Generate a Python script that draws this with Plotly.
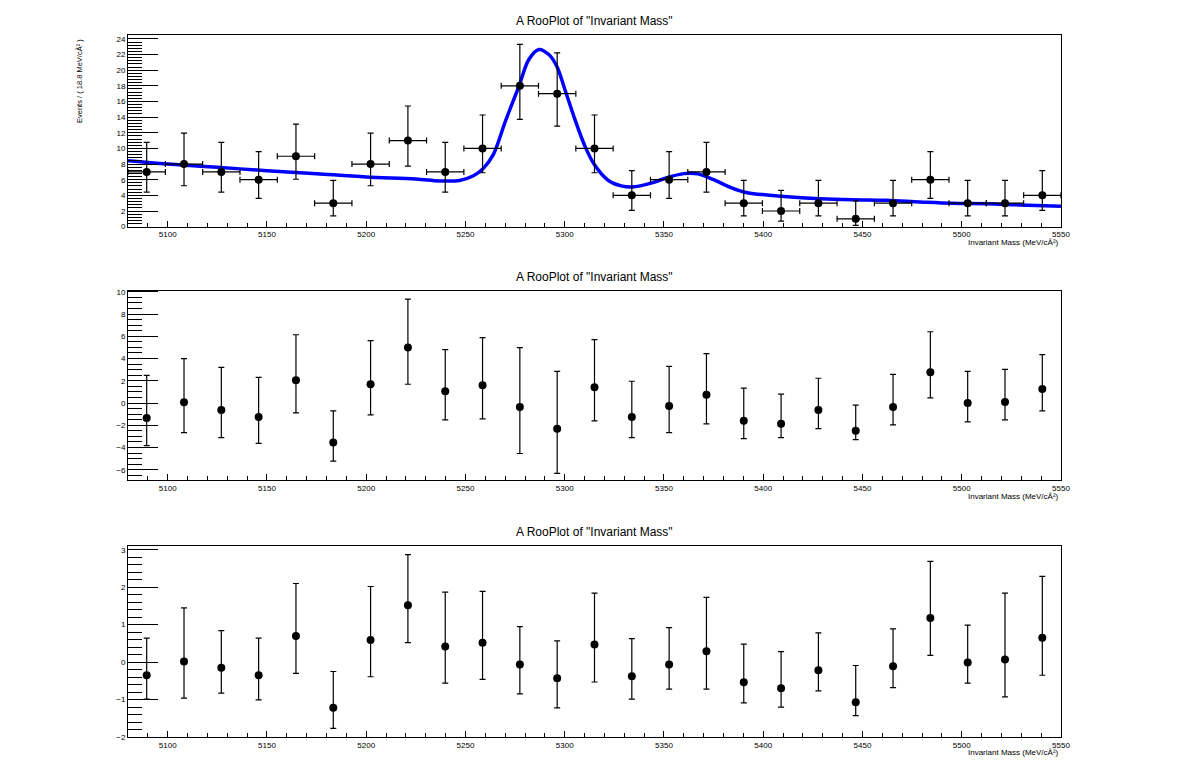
import plotly.graph_objects as go
from plotly.subplots import make_subplots

# binning: 25 bins of 18.8 MeV between 5080 and 5550
bin_width = 18.8
mass = [5089.4, 5108.2, 5127.0, 5145.8, 5164.6, 5183.4, 5202.2, 5221.0, 5239.8,
        5258.6, 5277.4, 5296.2, 5315.0, 5333.8, 5352.6, 5371.4, 5390.2, 5409.0,
        5427.8, 5446.6, 5465.4, 5484.2, 5503.0, 5521.8, 5540.6]

# events per bin with asymmetric (poisson) errors
events = [7, 8, 7, 6, 9, 3, 8, 11, 7, 10, 18, 17, 10, 4, 6, 7, 3, 2, 3, 1, 3, 6, 3, 3, 4]
events_hi = [3.77, 3.95, 3.77, 3.58, 4.11, 2.92, 3.95, 4.42, 3.77, 4.27, 5.3, 5.2,
             4.27, 3.16, 3.58, 3.77, 2.92, 2.64, 2.92, 2.30, 2.92, 3.58, 2.92, 2.92, 3.16]
events_lo = [2.58, 2.77, 2.58, 2.38, 2.94, 1.63, 2.77, 3.27, 2.58, 3.11, 4.3, 4.15,
             3.11, 1.91, 2.38, 2.58, 1.63, 1.29, 1.63, 0.83, 1.63, 2.38, 1.63, 1.63, 1.91]

# fitted model curve
curve_x = [5080, 5100, 5125, 5150, 5175, 5200, 5225, 5237, 5247, 5254, 5259, 5264,
           5270, 5277, 5282, 5287, 5292, 5296, 5300, 5305, 5310, 5315, 5322, 5329,
           5335, 5344, 5352, 5360, 5367, 5375, 5384, 5392, 5402, 5414, 5429, 5445,
           5462, 5479, 5495, 5512, 5529, 5550]
curve_y = [8.42, 8.0, 7.58, 7.16, 6.76, 6.36, 6.1, 5.85, 5.9, 6.5, 7.45, 9.2,
           13.4, 18.0, 21.4, 22.65, 22.0, 20.5, 17.6, 13.8, 10.4, 7.9, 5.9, 5.18,
           5.1, 5.6, 6.3, 6.78, 6.75, 6.0, 4.97, 4.34, 4.04, 3.79, 3.58, 3.45,
           3.37, 3.16, 2.99, 2.94, 2.78, 2.61]

# residuals (data - model)
resid = [-1.34, 0.06, -0.62, -1.25, 2.05, -3.56, 1.69, 4.99, 1.07, 1.60, -0.36, -2.31,
         1.42, -1.25, -0.27, 0.74, -1.60, -1.87, -0.62, -2.49, -0.36, 2.76, 0.0, 0.09, 1.25]
resid_hi = [3.83, 3.94, 3.82, 3.56, 4.09, 2.85, 3.92, 4.36, 3.74, 4.28, 5.35, 5.16,
            4.28, 3.21, 3.56, 3.71, 2.94, 2.67, 2.85, 2.31, 2.94, 3.65, 2.85, 2.94, 3.11]
resid_lo = [2.49, 2.73, 2.50, 2.37, 2.94, 1.66, 2.76, 3.30, 2.58, 3.02, 4.18, 4.01,
            3.02, 1.87, 2.40, 2.61, 1.60, 1.25, 1.69, 0.80, 1.60, 2.29, 1.69, 1.60, 1.96]

# pulls
pull = [-0.35, 0.02, -0.15, -0.35, 0.70, -1.22, 0.59, 1.52, 0.42, 0.52, -0.06, -0.43,
        0.47, -0.38, -0.06, 0.29, -0.54, -0.70, -0.22, -1.07, -0.11, 1.18, -0.01, 0.07, 0.65]
pull_hi = [0.99, 1.43, 0.99, 0.99, 1.40, 0.97, 1.43, 1.35, 1.45, 1.37, 1.01, 1.00,
           1.37, 1.01, 0.98, 1.44, 1.02, 0.98, 1.00, 0.98, 1.00, 1.51, 1.00, 1.77, 1.64]
pull_lo = [0.64, 0.98, 0.68, 0.66, 1.00, 0.55, 0.98, 1.00, 0.98, 0.98, 0.79, 0.79,
           1.00, 0.61, 0.66, 1.01, 0.55, 0.50, 0.55, 0.36, 0.57, 1.00, 0.55, 1.00, 1.00]

title = 'A RooPlot of "Invariant Mass"'
xtitle = "Invariant Mass (MeV/cÂ²)"
ytitle = "Events / ( 18.8 MeV/cÂ² )"
font = "Liberation Sans, Arial, sans-serif"

fig = make_subplots(rows=3, cols=1)

err_style = dict(color="black", thickness=1.2, width=3)
marker = dict(color="black", size=8)

fig.add_trace(go.Scatter(x=curve_x, y=curve_y, mode="lines", line_shape="spline",
                         line=dict(color="#0000ff", width=3.5)), row=1, col=1)
fig.add_trace(go.Scatter(x=mass, y=events, mode="markers", marker=marker,
                         error_y=dict(type="data", symmetric=False, array=events_hi,
                                      arrayminus=events_lo, **err_style),
                         error_x=dict(type="constant", value=bin_width / 2, **err_style)),
              row=1, col=1)
fig.add_trace(go.Scatter(x=mass, y=resid, mode="markers", marker=marker,
                         error_y=dict(type="data", symmetric=False, array=resid_hi,
                                      arrayminus=resid_lo, **err_style)),
              row=2, col=1)
fig.add_trace(go.Scatter(x=mass, y=pull, mode="markers", marker=marker,
                         error_y=dict(type="data", symmetric=False, array=pull_hi,
                                      arrayminus=pull_lo, **err_style)),
              row=3, col=1)

# pixel layout of the 1198x774 canvas, turned into paper fractions
W, H = 1198, 774
x_dom = [129 / W, 1069 / W]
frames = [(32.3, 226), (290.7, 482.3), (548.7, 741.7)]
yranges = [[0, 24.5], [-6.95, 10.1], [-2.0, 3.1]]
ydticks = [2, 2, 1]
yminor = [0.4, 0.5, 0.2]

for i in range(3):
    top, bot = frames[i]
    fig.update_xaxes(row=i + 1, col=1, domain=x_dom, range=[5080, 5550],
                     showgrid=False, zeroline=False, showline=True, mirror=True,
                     linecolor="black", linewidth=1, ticks="inside", ticklen=6,
                     tickcolor="black", dtick=50, tick0=5100,
                     minor=dict(ticks="inside", ticklen=4, dtick=10, tickcolor="black",
                                showgrid=False),
                     tickfont=dict(size=8, color="black", family=font))
    fig.update_yaxes(row=i + 1, col=1, domain=[(H - bot) / H, (H - top) / H],
                     range=yranges[i], showgrid=False, zeroline=False, showline=True,
                     mirror=True, linecolor="black", linewidth=1, ticks="inside",
                     ticklen=30, tickcolor="black", dtick=ydticks[i], tick0=0,
                     minor=dict(ticks="inside", ticklen=14, dtick=yminor[i],
                                tickcolor="black", showgrid=False),
                     tickfont=dict(size=8, color="black", family=font))
    fig.add_annotation(text=title, xref="paper", yref="paper", x=0.5,
                       y=(H - top + 14) / H, showarrow=False, yanchor="middle",
                       font=dict(size=12, color="black", family=font))
    fig.add_annotation(text=xtitle, xref="paper", yref="paper", x=x_dom[1],
                       y=(H - bot - 16) / H, xanchor="right", yanchor="middle",
                       showarrow=False, font=dict(size=8, color="black", family=font))

fig.add_annotation(text=ytitle, xref="paper", yref="paper", x=80 / W, y=(H - 34) / H,
                   xanchor="center", yanchor="top", textangle=-90, showarrow=False,
                   font=dict(size=7.5, color="black", family=font))

fig.update_layout(autosize=True, margin=dict(l=0, r=0, t=0, b=0),
                  plot_bgcolor="white", paper_bgcolor="white", showlegend=False,
                  font=dict(family=font, color="black"))

# drop the default page margin and scrollbars so the figure fills the window
page_fix = ("document.body.style.margin='0';"
            "document.body.style.overflow='hidden';"
            "document.documentElement.style.overflow='hidden';"
            "window.dispatchEvent(new Event('resize'));")
fig.write_html("out.html", config={"displayModeBar": False, "responsive": True},
               default_width="100vw", default_height="100vh", post_script=page_fix)
